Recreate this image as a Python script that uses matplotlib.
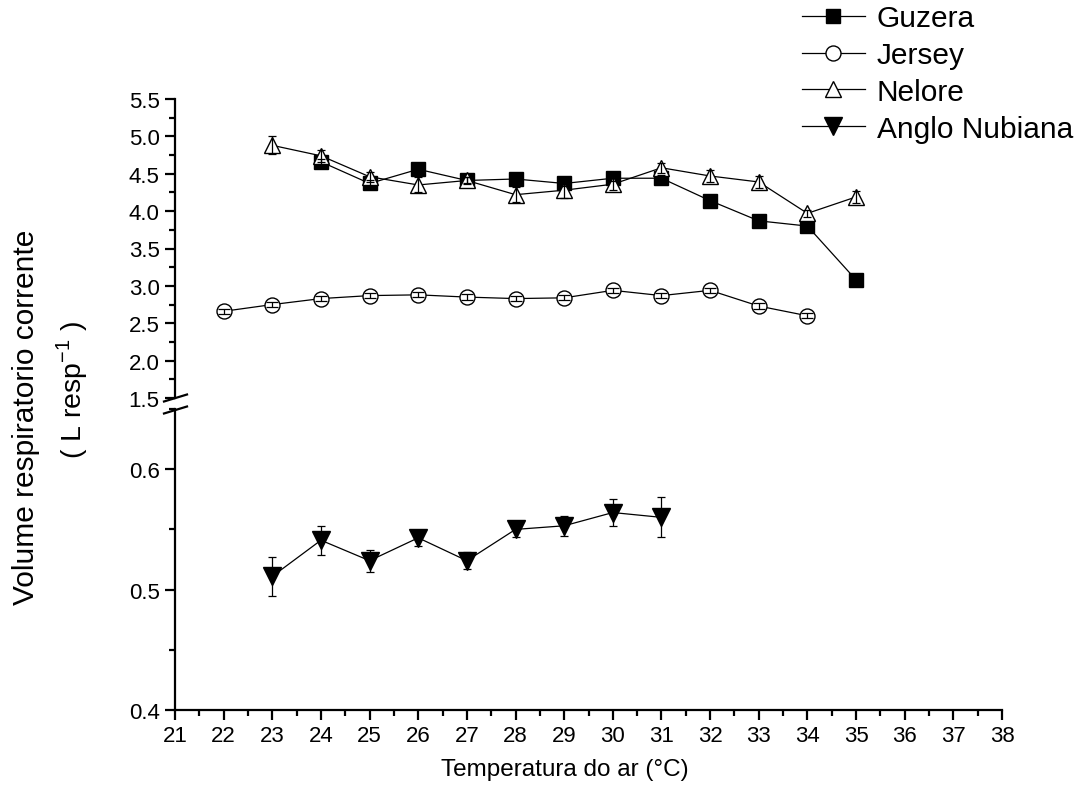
import matplotlib
matplotlib.use("Agg")
import matplotlib.pyplot as plt
from matplotlib.ticker import MultipleLocator, FormatStrFormatter
from matplotlib.lines import Line2D

plt.rcParams['font.family'] = ['Liberation Sans', 'DejaVu Sans']

# ---- data ----
guzera_x = [24, 25, 26, 27, 28, 29, 30, 31, 32, 33, 34, 35]
guzera_y = [4.66, 4.37, 4.56, 4.41, 4.43, 4.37, 4.44, 4.44, 4.14, 3.87, 3.80, 3.08]
guzera_err = [0.04, 0.04, 0.04, 0.04, 0.04, 0.04, 0.04, 0.04, 0.04, 0.04, 0.04, 0.04]

jersey_x = [22, 23, 24, 25, 26, 27, 28, 29, 30, 31, 32, 33, 34]
jersey_y = [2.66, 2.75, 2.83, 2.87, 2.88, 2.85, 2.83, 2.84, 2.94, 2.87, 2.94, 2.73, 2.60]
jersey_err = [0.035] * 13

nelore_x = [23, 24, 25, 26, 27, 28, 29, 30, 31, 32, 33, 34, 35]
nelore_y = [4.88, 4.74, 4.46, 4.35, 4.41, 4.22, 4.28, 4.36, 4.58, 4.47, 4.39, 3.97, 4.19]
nelore_err = [0.12, 0.08, 0.07, 0.10, 0.05, 0.10, 0.10, 0.08, 0.07, 0.08, 0.08, 0.05, 0.08]

anglo_x = [23, 24, 25, 26, 27, 28, 29, 30, 31]
anglo_y = [0.511, 0.541, 0.524, 0.543, 0.524, 0.550, 0.553, 0.564, 0.560]
anglo_err = [0.016, 0.012, 0.009, 0.0065, 0.007, 0.0065, 0.0085, 0.0115, 0.0165]

x_ticks = list(range(21, 39))
top_yticks = [1.5, 2.0, 2.5, 3.0, 3.5, 4.0, 4.5, 5.0, 5.5]
bot_yticks = [0.4, 0.5, 0.6]

W, H = 1078, 803
fig = plt.figure(figsize=(W / 100, H / 100), dpi=100)

def fx(px):
    return px / W

def fy(py):
    return 1 - py / H

left_px, right_px = 175, 1002
ax_top = fig.add_axes([fx(left_px), fy(399), fx(right_px - left_px), (399 - 100) / H])
ax_bot = fig.add_axes([fx(left_px), fy(711), fx(right_px - left_px), (711 - 410) / H])

for ax in (ax_top, ax_bot):
    ax.set_xlim(21, 38)
    for s in ('top', 'right'):
        ax.spines[s].set_visible(False)
    ax.spines['left'].set_linewidth(1.6)
    ax.spines['bottom'].set_linewidth(1.6)
    ax.tick_params(which='major', direction='out', length=7, width=1.6, labelsize=16, pad=4)
    ax.tick_params(which='minor', direction='out', length=4, width=1.6)
    ax.patch.set_visible(False)

ax_top.spines['bottom'].set_visible(False)
ax_top.tick_params(axis='x', which='both', bottom=False, labelbottom=False)
ax_top.set_ylim(1.5, 5.5)
ax_top.set_yticks(top_yticks)
ax_top.yaxis.set_major_formatter(FormatStrFormatter('%.1f'))
ax_top.yaxis.set_minor_locator(MultipleLocator(0.25))

ax_bot.set_ylim(0.4, 0.65)
ax_bot.set_yticks(bot_yticks)
ax_bot.yaxis.set_major_formatter(FormatStrFormatter('%.1f'))
ax_bot.yaxis.set_minor_locator(MultipleLocator(0.05))
ax_bot.set_xticks(x_ticks)
ax_bot.xaxis.set_minor_locator(MultipleLocator(0.5))

lw = 0.9

def series(ax, x, y, err, marker, ms, face, label, cap=3.2):
    ax.plot(x, y, color='black', lw=lw, marker=marker, ms=ms, mfc=face,
            mec='black', mew=1.0, zorder=3, label=label, clip_on=False)
    ax.errorbar(x, y, yerr=err, fmt='none', ecolor='black', elinewidth=0.9,
                capsize=cap, capthick=0.9, zorder=4, clip_on=False)

series(ax_top, guzera_x, guzera_y, guzera_err, 's', 9.8, 'black', 'Guzera')
series(ax_top, jersey_x, jersey_y, jersey_err, 'o', 10.8, 'white', 'Jersey', cap=4.5)
series(ax_top, nelore_x, nelore_y, nelore_err, '^', 11.5, 'white', 'Nelore')
series(ax_bot, anglo_x, anglo_y, anglo_err, 'v', 13, 'black', 'Anglo Nubiana')

# break marks on y axis
for py in (399, 411):
    fig.add_artist(Line2D([fx(164), fx(187)], [fy(py + 3.5), fy(py - 3.5)],
                          color='black', lw=1.6, transform=fig.transFigure))

# legend
handles = [
    Line2D([], [], color='black', lw=lw, marker='s', ms=9.8, mfc='black', mec='black'),
    Line2D([], [], color='black', lw=lw, marker='o', ms=10.8, mfc='white', mec='black'),
    Line2D([], [], color='black', lw=lw, marker='^', ms=11.5, mfc='white', mec='black'),
    Line2D([], [], color='black', lw=lw, marker='v', ms=13, mfc='black', mec='black'),
]
labels = ['Guzera', 'Jersey', 'Nelore', 'Anglo Nubiana']
fig.legend(handles, labels, loc='upper left', bbox_to_anchor=(fx(802), fy(5)),
           frameon=False, fontsize=21.5, handlelength=2.1, handletextpad=0.4,
           labelspacing=0.3, borderpad=0, borderaxespad=0)

# axis labels
fig.text(fx(26), fy(417), 'Volume respiratorio corrente', rotation=90,
         ha='center', va='center', fontsize=21.5)
fig.text(fx(72), fy(390), '( L resp$^{\\mathregular{-1}}$ )', rotation=90,
         ha='center', va='center', fontsize=20.5)
fig.text(fx(565), fy(770), 'Temperatura do ar (°C)', ha='center', va='center', fontsize=17.5)

fig.savefig('out.png', dpi=100)
